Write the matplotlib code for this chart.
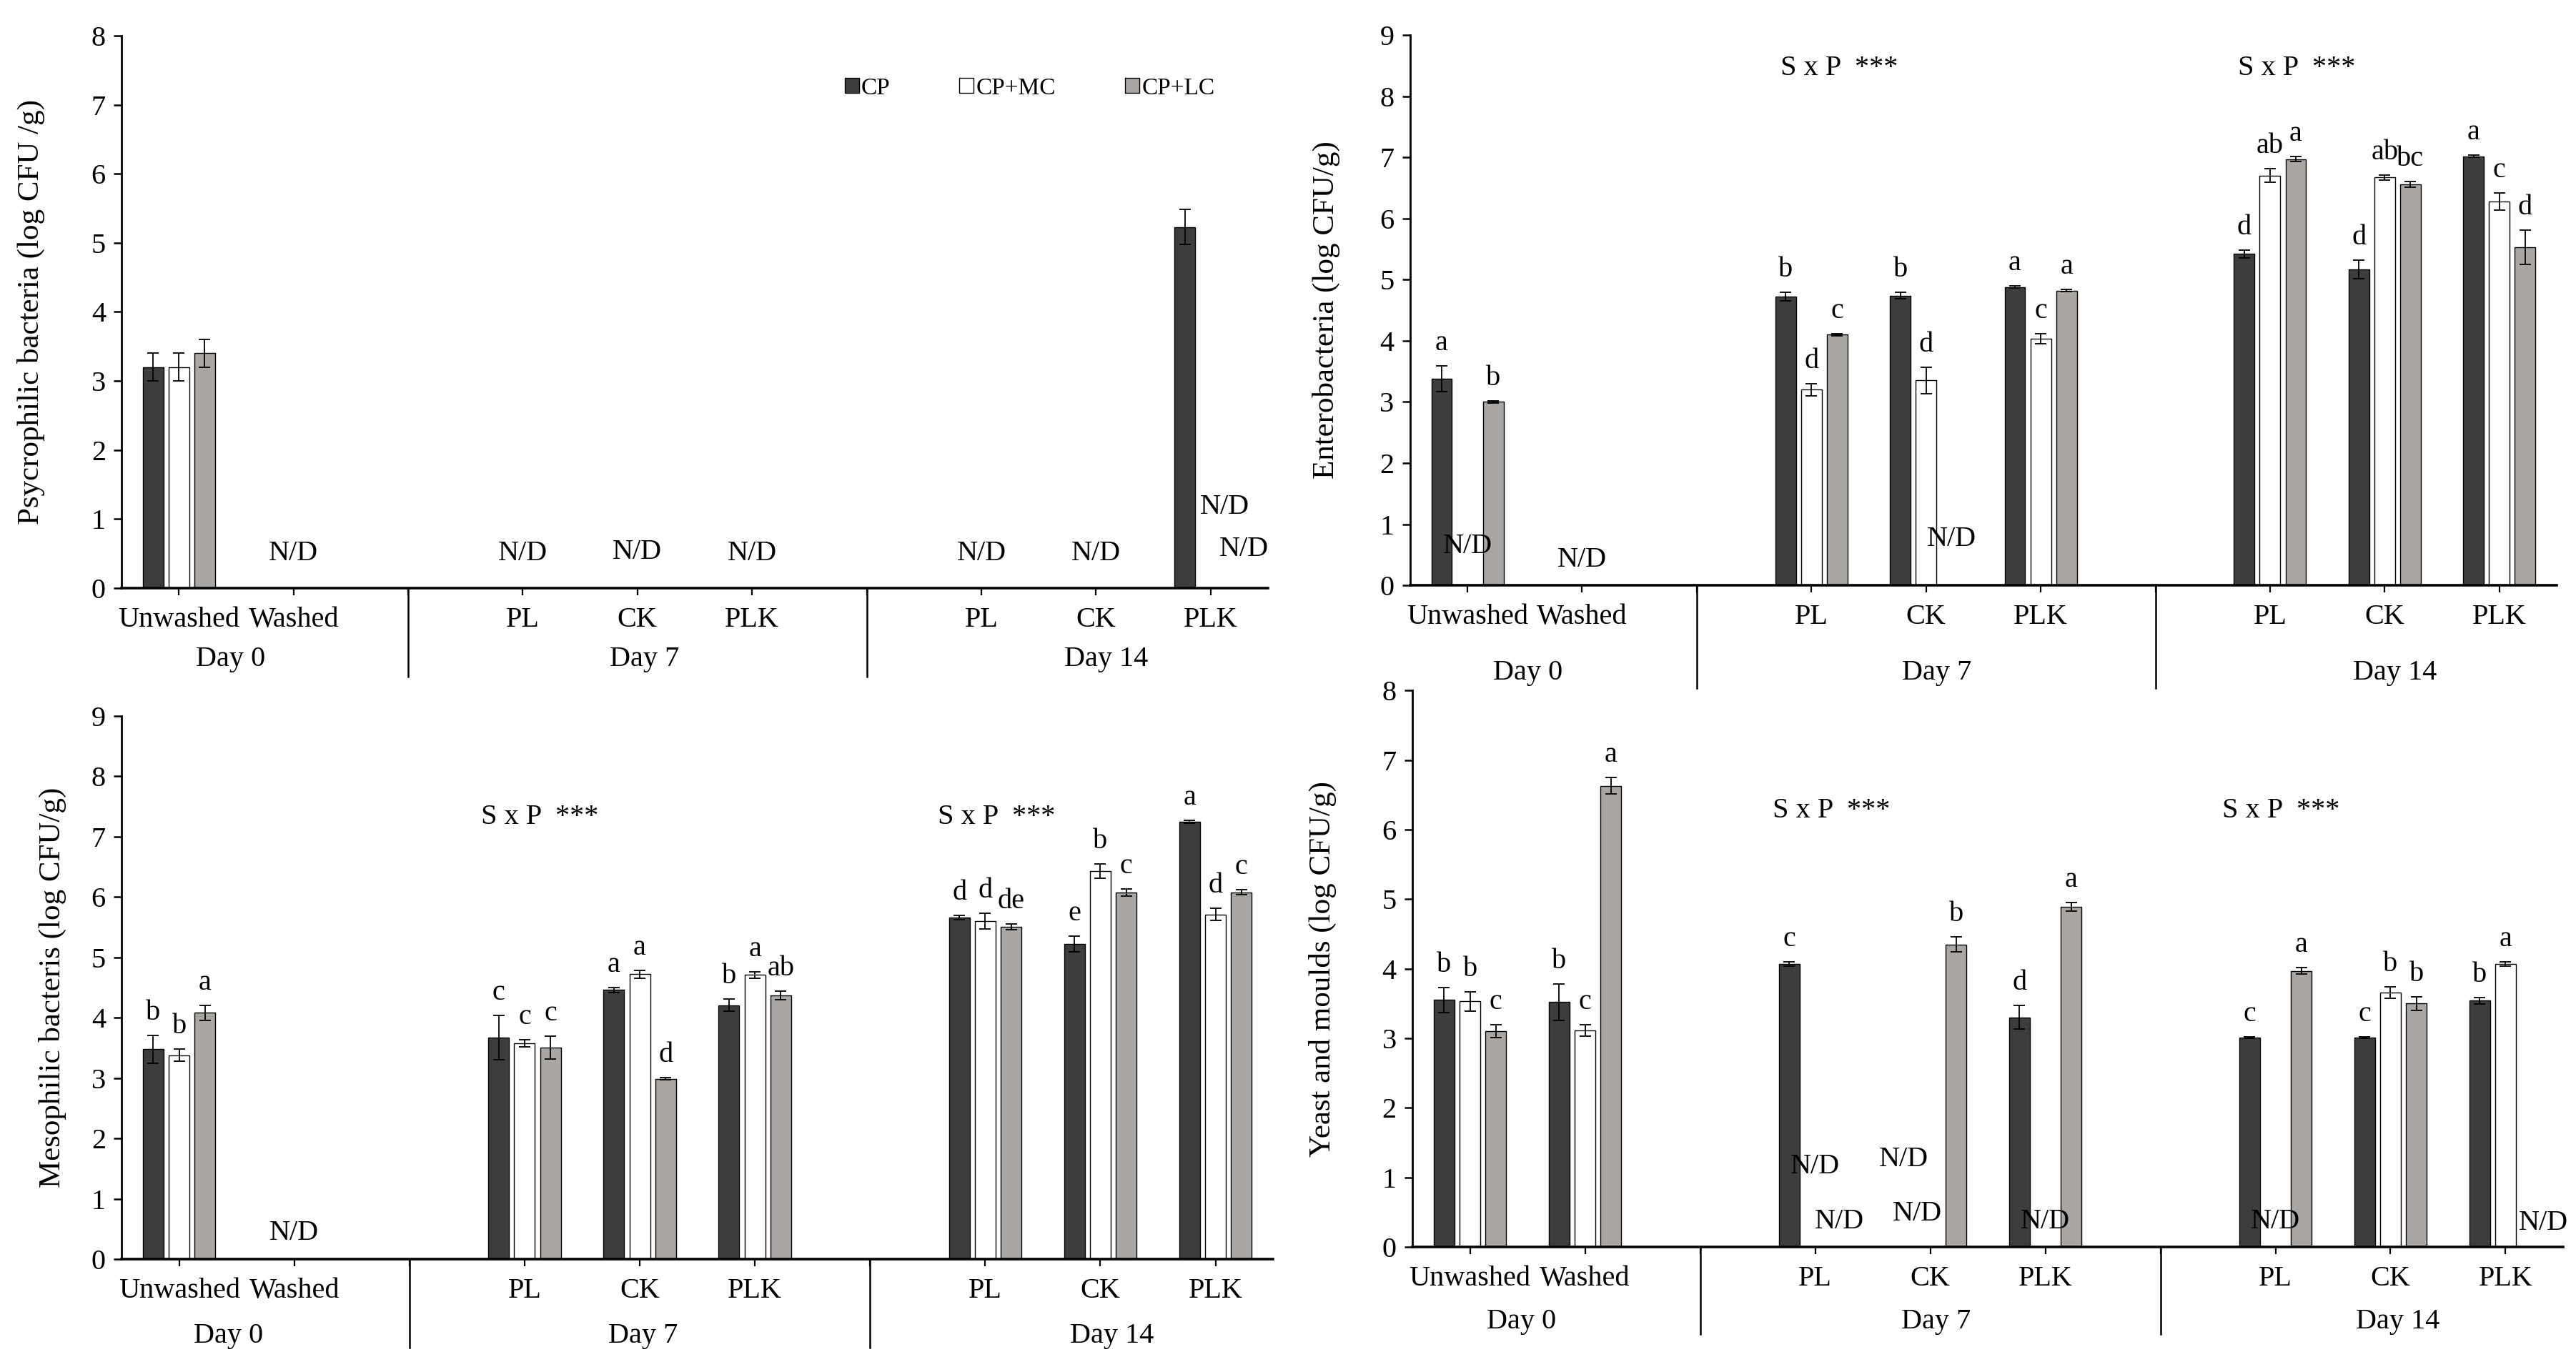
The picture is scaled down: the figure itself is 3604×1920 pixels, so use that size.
import numpy as np
import matplotlib
matplotlib.use("Agg")
import matplotlib.pyplot as plt
from matplotlib.patches import Patch
from matplotlib.transforms import blended_transform_factory

plt.rcParams['font.family'] = ['Liberation Serif', 'DejaVu Serif']

nan = np.nan
categories = ['Unwashed', 'Washed', '', 'PL', 'CK', 'PLK', '', 'PL', 'CK', 'PLK']
days = ['Day 0', 'Day 7', 'Day 14']
series_names = ['CP', 'CP+MC', 'CP+LC']

# Panel A: Psycrophilic bacteria
a_cp = [3.2, nan, nan, nan, nan, nan, nan, nan, nan, 5.23]
a_cp_err = [0.2, 0, 0, 0, 0, 0, 0, 0, 0, 0.25]
a_mc = [3.2, nan, nan, nan, nan, nan, nan, nan, nan, nan]
a_mc_err = [0.2, 0, 0, 0, 0, 0, 0, 0, 0, 0]
a_lc = [3.4, nan, nan, nan, nan, nan, nan, nan, nan, nan]
a_lc_err = [0.2, 0, 0, 0, 0, 0, 0, 0, 0, 0]
a_cp_let = [''] * 10
a_mc_let = [''] * 10
a_lc_let = [''] * 10
a_nd = [(1, 0.5), (3, 0.5), (4, 0.52), (5, 0.5), (7, 0.5), (8, 0.5), (9.12, 1.17), (9.29, 0.56)]

# Panel B: Enterobacteria
b_cp = [3.38, nan, nan, 4.72, 4.74, 4.88, nan, 5.42, 5.17, 7.02]
b_cp_err = [0.21, 0, 0, 0.07, 0.05, 0.02, 0, 0.06, 0.15, 0.02]
b_mc = [nan, nan, nan, 3.2, 3.35, 4.03, nan, 6.7, 6.67, 6.28]
b_mc_err = [0, 0, 0, 0.1, 0.22, 0.08, 0, 0.11, 0.04, 0.14]
b_lc = [3.0, nan, nan, 4.1, nan, 4.82, nan, 6.97, 6.56, 5.53]
b_lc_err = [0.02, 0, 0, 0.02, 0, 0.02, 0, 0.04, 0.05, 0.28]
b_cp_let = ['a', '', '', 'b', 'b', 'a', '', 'd', 'd', 'a']
b_mc_let = ['', '', '', 'd', 'd', 'c', '', 'ab', 'ab', 'c']
b_lc_let = ['b', '', '', 'c', '', 'a', '', 'a', 'bc', 'd']
b_nd = [(0, 0.64), (1, 0.42), (4.22, 0.75)]

# Panel C: Mesophilic bacteria
c_cp = [3.48, nan, nan, 3.67, 4.46, 4.21, nan, 5.66, 5.22, 7.25]
c_cp_err = [0.23, 0, 0, 0.37, 0.04, 0.1, 0, 0.04, 0.13, 0.02]
c_mc = [3.38, nan, nan, 3.58, 4.72, 4.71, nan, 5.6, 6.43, 5.71]
c_mc_err = [0.1, 0, 0, 0.06, 0.07, 0.05, 0, 0.13, 0.12, 0.1]
c_lc = [4.08, nan, nan, 3.5, 2.99, 4.37, nan, 5.51, 6.08, 6.08]
c_lc_err = [0.12, 0, 0, 0.19, 0.02, 0.07, 0, 0.05, 0.06, 0.04]
c_cp_let = ['b', '', '', 'c', 'a', 'b', '', 'd', 'e', 'a']
c_mc_let = ['b', '', '', 'c', 'a', 'a', '', 'd', 'b', 'd']
c_lc_let = ['a', '', '', 'c', 'd', 'ab', '', 'de', 'c', 'c']
c_nd = [(1, 0.43)]

# Panel D: Yeast and moulds
d_cp = [3.55, 3.52, nan, 4.07, nan, 3.3, nan, 3.01, 3.01, 3.54]
d_cp_err = [0.18, 0.26, 0, 0.03, 0, 0.17, 0, 0.01, 0.01, 0.05]
d_mc = [3.53, 3.11, nan, nan, nan, nan, nan, nan, 3.66, 4.07]
d_mc_err = [0.14, 0.08, 0, 0, 0, 0, 0, 0, 0.08, 0.03]
d_lc = [3.1, 6.63, nan, nan, 4.35, 4.89, nan, 3.97, 3.5, nan]
d_lc_err = [0.09, 0.12, 0, 0, 0.11, 0.06, 0, 0.05, 0.1, 0]
d_cp_let = ['b', 'b', '', 'c', '', 'd', '', 'c', 'c', 'b']
d_mc_let = ['b', 'c', '', '', '', '', '', '', 'b', 'a']
d_lc_let = ['c', 'a', '', '', 'b', 'a', '', 'a', 'b', '']
d_nd = [(3.0, 1.16), (3.21, 0.37), (3.77, 1.26), (3.89, 0.48), (5.0, 0.37), (7.0, 0.37), (9.33, 0.34)]

COL_CP = '#3d3d3d'
COL_MC = '#ffffff'
COL_LC = '#a9a6a4'
W = 0.18
OFF = 0.225
FS = 29

W_PX, H_PX = 3604, 1920
fig = plt.figure(figsize=(W_PX / 100, H_PX / 100), dpi=100)


def panel(rect, series, errs, lets, ylim, ylabel, ylab_x, nd, sxp, day_x, sep_px, day_px, legend=False):
    ax = fig.add_axes(rect)
    h_px = rect[3] * H_PX
    x = np.arange(len(categories))
    cols = [COL_CP, COL_MC, COL_LC]
    for i, (vals, er, lt, c) in enumerate(zip(series, errs, lets, cols)):
        v = np.array(vals, dtype=float)
        e = np.array(er, dtype=float)
        xs = x + (i - 1) * OFF
        ax.bar(xs, v, W, color=c, edgecolor='black', linewidth=1.0, zorder=2)
        m = ~np.isnan(v)
        ax.errorbar(xs[m], v[m], yerr=e[m], fmt='none', ecolor='black',
                    elinewidth=1.3, capsize=6, capthick=1.3, zorder=3)
        for j in range(len(v)):
            if lt[j]:
                ax.annotate(lt[j], xy=(xs[j], v[j] + e[j]), xytext=(0, 22),
                            textcoords='offset pixels', ha='center', va='baseline',
                            fontsize=FS)
    for (tx, ty) in nd:
        ax.text(tx, ty, 'N/D', ha='center', va='center', fontsize=FS, clip_on=False)
    for (tx, ty) in sxp:
        ax.text(tx, ty, 'S x P  ***', ha='center', va='center', fontsize=FS)
    ax.set_xlim(-0.5, 9.5)
    ax.set_ylim(*ylim)
    ax.set_yticks(np.arange(ylim[0], ylim[1] + 1, 1))
    ax.set_xticks(x)
    ax.set_xticklabels(categories)
    ax.tick_params(axis='x', direction='out', length=7, width=1.6, pad=12, labelsize=FS)
    ax.tick_params(axis='y', direction='out', length=8, width=1.8, pad=8, labelsize=FS)
    for s in ['top', 'right']:
        ax.spines[s].set_visible(False)
    ax.spines['left'].set_linewidth(2.0)
    ax.spines['bottom'].set_linewidth(2.6)
    ax.set_ylabel(ylabel, fontsize=31)
    ax.yaxis.set_label_coords(ylab_x, 0.5)
    tr = blended_transform_factory(ax.transData, ax.transAxes)
    for sx in [2, 6]:
        ax.plot([sx, sx], [0, -sep_px / h_px], transform=tr, color='black',
                linewidth=1.8, clip_on=False)
    for dx, dl in zip(day_x, days):
        ax.text(dx, -day_px / h_px, dl, transform=tr, ha='center', va='center', fontsize=FS)
    if legend:
        handles = [Patch(facecolor=c, edgecolor='black', linewidth=1.0) for c in cols]
        ax.legend(handles, series_names, loc='center left', bbox_to_anchor=(0.612, 0.905),
                  ncol=3, frameon=False, fontsize=24, handlelength=0.6, handleheight=0.6,
                  handletextpad=0.1, columnspacing=2.9)
    return ax


panel([0.0472, 0.5714, 0.4450, 0.4026],
      [a_cp, a_mc, a_lc], [a_cp_err, a_mc_err, a_lc_err], [a_cp_let, a_mc_let, a_lc_let],
      (0, 8), 'Psycrophilic bacteria (log CFU /g)', -0.067, a_nd, [],
      [0.45, 4.06, 8.09], 124, 100, legend=True)

panel([0.5474, 0.5734, 0.4451, 0.4010],
      [b_cp, b_mc, b_lc], [b_cp_err, b_mc_err, b_lc_err], [b_cp_let, b_mc_let, b_lc_let],
      (0, 9), 'Enterobacteria (log CFU/g)', -0.061, b_nd, [(3.24, 8.46), (7.23, 8.46)],
      [0.53, 4.09, 8.09], 144, 122)

panel([0.0472, 0.0823, 0.4470, 0.3958],
      [c_cp, c_mc, c_lc], [c_cp_err, c_mc_err, c_lc_err], [c_cp_let, c_mc_let, c_lc_let],
      (0, 9), 'Mesophilic bacteris (log CFU/g)', -0.048, c_nd, [(3.13, 7.33), (7.10, 7.33)],
      [0.43, 4.03, 8.1], 124, 108)

panel([0.5483, 0.0911, 0.4467, 0.4057],
      [d_cp, d_mc, d_lc], [d_cp_err, d_mc_err, d_lc_err], [d_cp_let, d_mc_let, d_lc_let],
      (0, 8), 'Yeast and moulds (log CFU/g)', -0.066, d_nd, [(3.14, 6.27), (7.05, 6.27)],
      [0.45, 4.05, 8.06], 122, 104)

fig.savefig('out.png', dpi=100, facecolor='white')
